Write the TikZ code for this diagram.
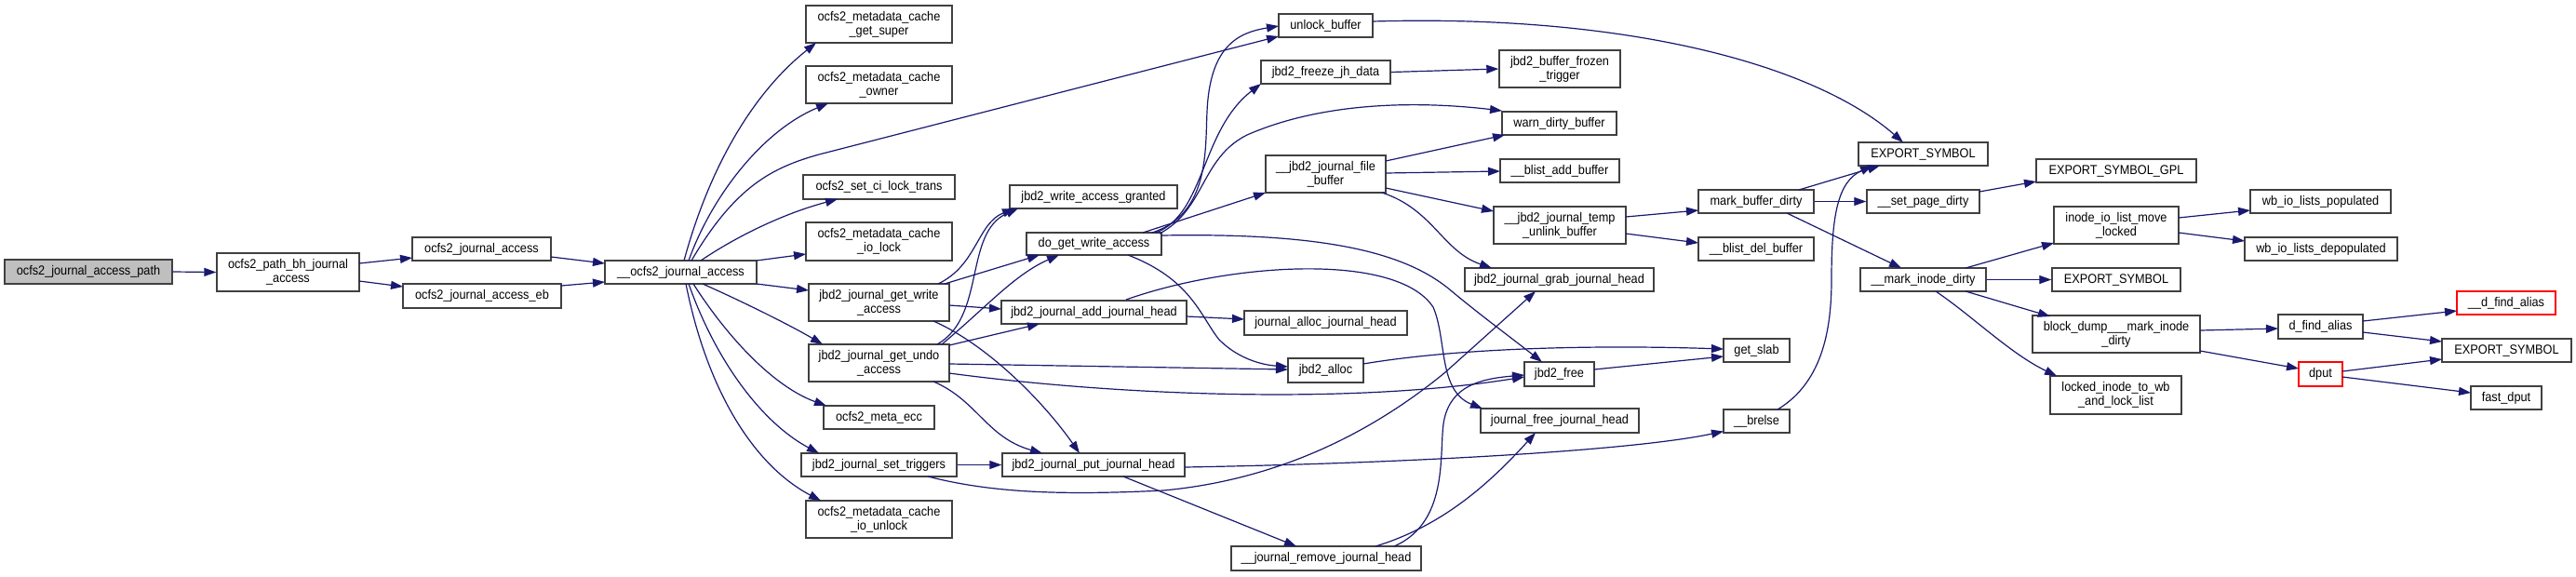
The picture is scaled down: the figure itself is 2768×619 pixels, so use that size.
\documentclass[tikz,border=0pt]{standalone}
\usepackage{fontspec}
\setmainfont{Liberation Sans}[FakeStretch=0.91]
\usetikzlibrary{arrows.meta}
\definecolor{edgec}{HTML}{191970}
\definecolor{bord}{HTML}{404040}
\definecolor{startfill}{HTML}{BFBFBF}
\begin{document}
\begin{tikzpicture}[x=1pt,y=-1pt,
 box/.style={draw=bord,line width=1.4pt,fill=white,inner sep=0pt,align=center,font=\fontsize{14}{15}\selectfont},
 redbox/.style={box,draw=red},
 edge/.style={draw=edgec,line width=1.2pt,-{Triangle[length=13pt,width=9pt]}},
]
\fill[white] (0,0) rectangle (2768,619);
\useasboundingbox (0,0) rectangle (2768,619);

\node[box,fill=startfill,minimum width=180pt,minimum height=26pt] (n0) at (95,292) {ocfs2\_journal\_access\_path};
\node[box,minimum width=153pt,minimum height=41pt] (n1) at (309.5,292.5) {ocfs2\_path\_bh\_journal\\\_access};
\node[box,minimum width=149pt,minimum height=25pt] (n2) at (517.5,267.5) {ocfs2\_journal\_access};
\node[box,minimum width=170pt,minimum height=26pt] (n3) at (518,318) {ocfs2\_journal\_access\_eb};
\node[box,minimum width=163pt,minimum height=25pt] (n4) at (731.5,292.5) {\_\_ocfs2\_journal\_access};
\node[box,minimum width=157pt,minimum height=40pt] (n5) at (944.5,26) {ocfs2\_metadata\_cache\\\_get\_super};
\node[box,minimum width=157pt,minimum height=40pt] (n6) at (944.5,91) {ocfs2\_metadata\_cache\\\_owner};
\node[box,minimum width=163pt,minimum height=26pt] (n7) at (944.5,201) {ocfs2\_set\_ci\_lock\_trans};
\node[box,minimum width=157pt,minimum height=41pt] (n8) at (944.5,259.5) {ocfs2\_metadata\_cache\\\_io\_lock};
\node[box,minimum width=151pt,minimum height=40pt] (n9) at (944.5,325) {jbd2\_journal\_get\_write\\\_access};
\node[box,minimum width=151pt,minimum height=40pt] (n10) at (944.5,390) {jbd2\_journal\_get\_undo\\\_access};
\node[box,minimum width=119pt,minimum height=25pt] (n11) at (944.5,448.5) {ocfs2\_meta\_ecc};
\node[box,minimum width=167pt,minimum height=25pt] (n12) at (944.5,499.5) {jbd2\_journal\_set\_triggers};
\node[box,minimum width=157pt,minimum height=40pt] (n13) at (944.5,558) {ocfs2\_metadata\_cache\\\_io\_unlock};
\node[box,minimum width=180pt,minimum height=25pt] (n14) at (1175,211.5) {jbd2\_write\_access\_granted};
\node[box,minimum width=145pt,minimum height=24pt] (n15) at (1175.5,262) {do\_get\_write\_access};
\node[box,minimum width=199pt,minimum height=25pt] (n16) at (1175.5,335.5) {jbd2\_journal\_add\_journal\_head};
\node[box,minimum width=196pt,minimum height=25pt] (n17) at (1175,499.5) {jbd2\_journal\_put\_journal\_head};
\node[box,minimum width=101pt,minimum height=25pt] (n18) at (1424.5,27.5) {unlock\_buffer};
\node[box,minimum width=139pt,minimum height=25pt] (n19) at (1424.5,77.5) {jbd2\_freeze\_jh\_data};
\node[box,minimum width=129pt,minimum height=40pt] (n20) at (1424.5,187) {\_\_jbd2\_journal\_file\\\_buffer};
\node[box,minimum width=175pt,minimum height=26pt] (n21) at (1424.5,347) {journal\_alloc\_journal\_head};
\node[box,minimum width=81pt,minimum height=26pt] (n22) at (1424.5,398) {jbd2\_alloc};
\node[box,minimum width=204pt,minimum height=26pt] (n23) at (1425,600) {\_\_journal\_remove\_journal\_head};
\node[box,minimum width=130pt,minimum height=40pt] (n24) at (1676,74) {jbd2\_buffer\_frozen\\\_trigger};
\node[box,minimum width=123pt,minimum height=25pt] (n25) at (1675.5,132.5) {warn\_dirty\_buffer};
\node[box,minimum width=128pt,minimum height=25pt] (n26) at (1676,183.5) {\_\_blist\_add\_buffer};
\node[box,minimum width=142pt,minimum height=40pt] (n27) at (1676,242) {\_\_jbd2\_journal\_temp\\\_unlink\_buffer};
\node[box,minimum width=203pt,minimum height=25pt] (n28) at (1675.5,300.5) {jbd2\_journal\_grab\_journal\_head};
\node[box,minimum width=75pt,minimum height=26pt] (n29) at (1675.5,402) {jbd2\_free};
\node[box,minimum width=170pt,minimum height=26pt] (n30) at (1676,452) {journal\_free\_journal\_head};
\node[box,minimum width=124pt,minimum height=25pt] (n31) at (1887,216.5) {mark\_buffer\_dirty};
\node[box,minimum width=124pt,minimum height=25pt] (n32) at (1887,267.5) {\_\_blist\_del\_buffer};
\node[box,minimum width=71pt,minimum height=25pt] (n33) at (1887.5,376.5) {get\_slab};
\node[box,minimum width=71pt,minimum height=25pt] (n34) at (1887.5,452.5) {\_\_brelse};
\node[box,minimum width=139pt,minimum height=25pt] (n35) at (2066.5,165.5) {EXPORT\_SYMBOL};
\node[box,minimum width=121pt,minimum height=25pt] (n36) at (2066.5,216.5) {\_\_set\_page\_dirty};
\node[box,minimum width=135pt,minimum height=25pt] (n37) at (2066.5,300.5) {\_\_mark\_inode\_dirty};
\node[box,minimum width=172pt,minimum height=25pt] (n38) at (2274,183.5) {EXPORT\_SYMBOL\_GPL};
\node[box,minimum width=134pt,minimum height=40pt] (n39) at (2274,242) {inode\_io\_list\_move\\\_locked};
\node[box,minimum width=138pt,minimum height=25pt] (n40) at (2274,300.5) {EXPORT\_SYMBOL};
\node[box,minimum width=180pt,minimum height=40pt] (n41) at (2274,359) {block\_dump\_\_\_mark\_inode\\\_dirty};
\node[box,minimum width=141pt,minimum height=41pt] (n42) at (2273.5,424.5) {locked\_inode\_to\_wb\\\_and\_lock\_list};
\node[box,minimum width=151pt,minimum height=25pt] (n43) at (2493.5,216.5) {wb\_io\_lists\_populated};
\node[box,minimum width=164pt,minimum height=25pt] (n44) at (2494,267.5) {wb\_io\_lists\_depopulated};
\node[box,minimum width=91pt,minimum height=26pt] (n45) at (2493.5,351) {d\_find\_alias};
\node[redbox,minimum width=47pt,minimum height=26pt] (n46) at (2493.5,402) {dput};
\node[redbox,minimum width=106pt,minimum height=25pt] (n47) at (2693,325.5) {\_\_d\_find\_alias};
\node[box,minimum width=139pt,minimum height=25pt] (n48) at (2693.5,376.5) {EXPORT\_SYMBOL};
\node[box,minimum width=76pt,minimum height=25pt] (n49) at (2693,427.5) {fast\_dput};

% edges
\draw[edge] (n0.east) -- (n1.west);
\draw[edge] ([shift={(76.5,-9.5)}]n1.center) -- ([shift={(-74.5,9.5)}]n2.center);
\draw[edge] ([shift={(76.5,9.5)}]n1.center) -- ([shift={(-85,-10)}]n3.center);
\draw[edge] ([shift={(74.5,8.5)}]n2.center) -- ([shift={(-81.5,-9.5)}]n4.center);
\draw[edge] ([shift={(85,-11)}]n3.center) -- ([shift={(-81.5,10.5)}]n4.center);
\draw[edge] ([shift={(3.5,-12.5)}]n4.center) .. controls (765,170) and (815,95) .. ([shift={(-67.5,20)}]n5.center);
\draw[edge] ([shift={(8.5,-12.5)}]n4.center) .. controls (765,210) and (820,140) .. ([shift={(-54.5,20)}]n6.center);
\draw[edge] ([shift={(11.5,-12.5)}]n4.center) .. controls (790,200) and (830,180) .. (880,166) -- ([shift={(-50.5,11.5)}]n18.center);
\draw[edge] ([shift={(21.5,-12.5)}]n4.center) .. controls (790,255) and (840,230) .. ([shift={(-44.5,13)}]n7.center);
\draw[edge] ([shift={(81.5,-12.5)}]n4.center) -- ([shift={(-78.5,13.5)}]n8.center);
\draw[edge] ([shift={(81.5,12.5)}]n4.center) -- ([shift={(-75.5,-13)}]n9.center);
\draw[edge] ([shift={(23.5,12.5)}]n4.center) .. controls (800,325) and (850,350) .. ([shift={(-60.5,-20)}]n10.center);
\draw[edge] ([shift={(13.5,12.5)}]n4.center) .. controls (780,360) and (830,415) .. ([shift={(-56.5,-12.5)}]n11.center);
\draw[edge] ([shift={(8.5,12.5)}]n4.center) .. controls (770,390) and (820,455) .. ([shift={(-64.5,-12.5)}]n12.center);
\draw[edge] ([shift={(5.5,12.5)}]n4.center) .. controls (760,420) and (810,500) .. ([shift={(-62.5,-20)}]n13.center);

\draw[edge] ([shift={(63.5,-20)}]n9.center) .. controls (1050,285) and (1050,240) .. ([shift={(-85,12.5)}]n14.center);
\draw[edge] ([shift={(62.5,-20)}]n10.center) .. controls (1060,340) and (1035,250) .. ([shift={(-81,12.5)}]n14.center);
\draw[edge] ([shift={(70.5,-20)}]n9.center) -- ([shift={(-58.5,12)}]n15.center);
\draw[edge] ([shift={(67.5,-20)}]n10.center) .. controls (1060,330) and (1090,295) .. ([shift={(-37.5,12)}]n15.center);
\draw[edge] ([shift={(75.5,3)}]n9.center) -- ([shift={(-99.5,-3.5)}]n16.center);
\draw[edge] ([shift={(75.5,-19)}]n10.center) -- ([shift={(-58.5,12.5)}]n16.center);
\draw[edge] ([shift={(58.5,20)}]n9.center) .. controls (1060,370) and (1120,430) .. ([shift={(-15,-12.5)}]n17.center);
\draw[edge] ([shift={(58.5,20)}]n10.center) .. controls (1050,430) and (1060,470) .. ([shift={(-55,-12.5)}]n17.center);
\draw[edge] ([shift={(75.5,1)}]n10.center) -- ([shift={(-40.5,-1)}]n22.center);
\draw[edge] ([shift={(75.5,11)}]n10.center) .. controls (1200,425) and (1450,435) .. ([shift={(-37.5,3)}]n29.center);
\draw[edge] (n12.east) -- (n17.west);
\draw[edge] ([shift={(52.5,12.5)}]n12.center) .. controls (1060,528) and (1130,533) .. (1250,527) .. controls (1380,515) and (1480,460) .. (1553,400) -- ([shift={(-25.5,12.5)}]n28.center);
\draw[edge] ([shift={(98,2.5)}]n17.center) .. controls (1500,498) and (1750,485) .. ([shift={(-35.5,11)}]n34.center);
\draw[edge] ([shift={(32,12.5)}]n17.center) -- ([shift={(-32,-13)}]n23.center);
\draw[edge] ([shift={(73,-13)}]n23.center) .. controls (1560,560) and (1545,480) .. (1552,450) .. controls (1560,415) and (1590,407) .. ([shift={(-37.5,1)}]n29.center);
\draw[edge] ([shift={(53,-13)}]n23.center) .. controls (1550,565) and (1600,520) .. ([shift={(-26,13)}]n30.center);
\draw[edge] ([shift={(99.5,4.5)}]n16.center) -- ([shift={(-87.5,-4)}]n21.center);
\draw[edge] ([shift={(34.5,-13.5)}]n16.center) .. controls (1320,283) and (1500,270) .. (1540,330) .. controls (1555,365) and (1545,420) .. ([shift={(-83,-13)}]n30.center);

\draw[edge] ([shift={(62.5,-12)}]n15.center) .. controls (1300,230) and (1295,160) .. (1297,120) .. controls (1300,50) and (1330,35) .. ([shift={(-50.5,0.5)}]n18.center);
\draw[edge] ([shift={(66.5,-12)}]n15.center) .. controls (1295,230) and (1290,140) .. ([shift={(-69.5,12.5)}]n19.center);
\draw[edge] ([shift={(70.5,-11)}]n15.center) .. controls (1295,225) and (1290,170) .. (1340,145) .. controls (1420,110) and (1520,108) .. ([shift={(-61.5,-13.5)}]n25.center);
\draw[edge] ([shift={(52.5,-12)}]n15.center) -- ([shift={(-64.5,20)}]n20.center);
\draw[edge] ([shift={(72.5,-9)}]n15.center) .. controls (1420,250) and (1510,270) .. (1560,313) .. controls (1590,338) and (1620,360) .. ([shift={(-18.5,-13)}]n29.center);
\draw[edge] ([shift={(36.5,12)}]n15.center) .. controls (1280,300) and (1290,340) .. (1310,365) .. controls (1330,385) and (1355,392) .. ([shift={(-40.5,-4)}]n22.center);

\draw[edge] ([shift={(40.5,-7)}]n22.center) .. controls (1560,375) and (1700,370) .. ([shift={(-35.5,-1.5)}]n33.center);
\draw[edge] ([shift={(37.5,-5)}]n29.center) -- ([shift={(-35.5,6.5)}]n33.center);
\draw[edge] (n19.east) -- (n24.west);
\draw[edge] ([shift={(64.5,-14)}]n20.center) -- ([shift={(-58.5,12.5)}]n25.center);
\draw[edge] ([shift={(64.5,-1)}]n20.center) -- ([shift={(-64,0.5)}]n26.center);
\draw[edge] ([shift={(64.5,15)}]n20.center) -- ([shift={(-71,-15)}]n27.center);
\draw[edge] ([shift={(60.5,20)}]n20.center) .. controls (1540,225) and (1550,270) .. ([shift={(-72.5,-12.5)}]n28.center);
\draw[edge] ([shift={(71,-9)}]n27.center) -- ([shift={(-62,9.5)}]n31.center);
\draw[edge] ([shift={(71,9)}]n27.center) -- ([shift={(-62,-6.5)}]n32.center);

\draw[edge] ([shift={(50.5,-4.5)}]n18.center) .. controls (1750,15) and (1950,70) .. ([shift={(-21.5,-12.5)}]n35.center);
\draw[edge] ([shift={(46,-12.5)}]n31.center) -- ([shift={(-46.5,12.5)}]n35.center);
\draw[edge] (n31.east) -- (n36.west);
\draw[edge] ([shift={(33,12.5)}]n31.center) -- ([shift={(-23.5,-12.5)}]n37.center);
\draw[edge] ([shift={(22.5,-12.5)}]n34.center) .. controls (1960,410) and (1968,350) .. (1968,300) .. controls (1968,230) and (1975,195) .. ([shift={(-54.5,12.5)}]n35.center);
\draw[edge] ([shift={(60.5,-10.5)}]n36.center) -- ([shift={(-86,11.5)}]n38.center);
\draw[edge] ([shift={(45.5,-12.5)}]n37.center) -- ([shift={(-67,19)}]n39.center);
\draw[edge] (n37.east) -- (n40.west);
\draw[edge] ([shift={(45.5,12.5)}]n37.center) -- ([shift={(-71,-19)}]n41.center);
\draw[edge] ([shift={(13.5,12.5)}]n37.center) .. controls (2120,340) and (2160,380) .. ([shift={(-63.5,-20.5)}]n42.center);
\draw[edge] ([shift={(67,-8)}]n39.center) -- ([shift={(-75.5,9.5)}]n43.center);
\draw[edge] ([shift={(67,8)}]n39.center) -- ([shift={(-82,-8.5)}]n44.center);
\draw[edge] ([shift={(90,-4)}]n41.center) -- ([shift={(-45.5,2)}]n45.center);
\draw[edge] ([shift={(90,18)}]n41.center) -- ([shift={(-23.5,-6)}]n46.center);
\draw[edge] ([shift={(45.5,-6)}]n45.center) -- ([shift={(-53,8.5)}]n47.center);
\draw[edge] ([shift={(45.5,6)}]n45.center) -- ([shift={(-69.5,-9.5)}]n48.center);
\draw[edge] ([shift={(23.5,-3)}]n46.center) -- ([shift={(-69.5,9.5)}]n48.center);
\draw[edge] ([shift={(23.5,3)}]n46.center) -- ([shift={(-38,-5.5)}]n49.center);
\end{tikzpicture}
\end{document}
